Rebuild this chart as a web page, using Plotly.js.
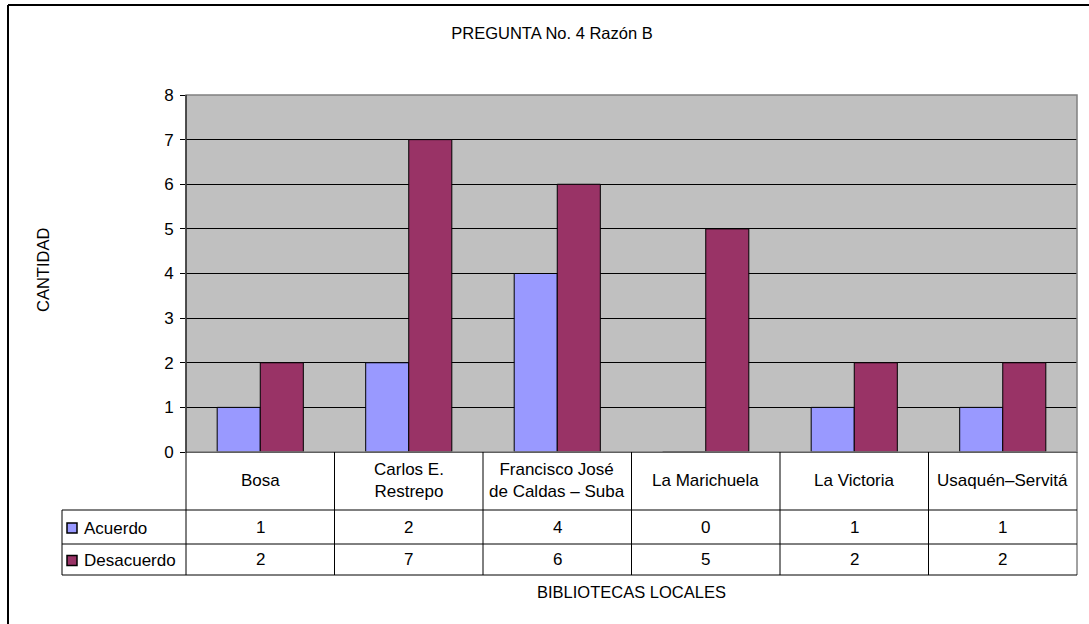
<!DOCTYPE html>
<html>
<head>
<meta charset="utf-8">
<script src="https://cdn.plot.ly/plotly-3.0.1.min.js"></script>
<style>html,body{margin:0;padding:0;background:#fff;}#chart{width:1089px;height:624px;}</style>
</head>
<body>
<div id="chart"></div>
<script>
// ---- data ----
const categories = ["Bosa", "Carlos E. Restrepo", "Francisco José de Caldas – Suba", "La Marichuela", "La Victoria", "Usaquén–Servitá"];
const tickLabels = ["Bosa", "Carlos E.<br>Restrepo", "Francisco José<br>de Caldas – Suba", "La Marichuela", "La Victoria", "Usaquén–Servitá"];
const seriesNames = ["Acuerdo", "Desacuerdo"];
const acuerdo = [1, 2, 4, 0, 1, 1];
const desacuerdo = [2, 7, 6, 5, 2, 2];
const chartTitle = "PREGUNTA No. 4 Razón B";
const xTitle = "BIBLIOTECAS LOCALES";
const yTitle = "CANTIDAD";

// ---- styling / geometry ----
const colors = ["#9999FF", "#993366"];
const FONT = "Liberation Sans, Arial, sans-serif";
const W = 1089, H = 624;
const L = 186, R = 1077, T = 95, B = 452;
const px = x => (x - L) / (R - L);
const py = y => (B - y) / (B - T);

const series = [acuerdo, desacuerdo];
const traces = series.map((vals, i) => ({
  type: "bar",
  name: seriesNames[i],
  x: categories,
  y: vals,
  marker: { color: colors[i], line: { color: "#000", width: 1 } },
  hoverinfo: "none"
}));

const rowTop = [510, 544];
const rowBottom = [544, 575];
const legendLeft = 62;
const shapes = [];
const annotations = [];

// outer chart border (top and left edges visible)
shapes.push({ type: "line", xref: "paper", yref: "paper", x0: px(8), x1: px(W), y0: py(5), y1: py(5),
  line: { color: "#000", width: 2 }, layer: "above" });
shapes.push({ type: "line", xref: "paper", yref: "paper", x0: px(8), x1: px(8), y0: py(5), y1: py(H),
  line: { color: "#000", width: 2 }, layer: "above" });
// plot area border (grey)
shapes.push({ type: "rect", xref: "paper", yref: "paper", x0: 0, x1: 1, y0: 0, y1: 1,
  line: { color: "#808080", width: 1.5 }, fillcolor: "rgba(0,0,0,0)", layer: "above" });
// y axis line
shapes.push({ type: "line", xref: "paper", yref: "paper", x0: 0, x1: 0, y0: 0, y1: 1, line: { color: "#000", width: 1 }, layer: "above" });

// data table lines
const n = categories.length;
for (let k = 0; k <= n; k++) {
  shapes.push({ type: "line", xref: "paper", yref: "paper", x0: k / n, x1: k / n, y0: 0, y1: py(575),
    line: { color: k === n ? "#444" : "#000", width: 1 } });
}
shapes.push({ type: "line", xref: "paper", yref: "paper", x0: px(legendLeft), x1: px(legendLeft), y0: py(510), y1: py(575),
  line: { color: "#000", width: 1 } });
[510, 544, 575].forEach(y => {
  shapes.push({ type: "line", xref: "paper", yref: "paper", x0: px(legendLeft), x1: 1, y0: py(y), y1: py(y),
    line: { color: "#000", width: 1 } });
});

// category labels
tickLabels.forEach((lab, j) => {
  annotations.push({ xref: "x", yref: "paper", x: categories[j], y: py(480), text: lab, showarrow: false,
    font: { family: FONT, size: 17, color: "#000" }, xanchor: "center", yanchor: "middle", align: "center" });
});
// series rows
series.forEach((vals, i) => {
  const yc = (rowTop[i] + rowBottom[i]) / 2;
  shapes.push({ type: "rect", xref: "paper", yref: "paper", x0: px(67), x1: px(77), y0: py(yc - 4), y1: py(yc + 6),
    fillcolor: colors[i], line: { color: "#000", width: 1.5 } });
  annotations.push({ xref: "paper", yref: "paper", x: px(82), y: py(yc + 1), text: seriesNames[i], showarrow: false,
    font: { family: FONT, size: 17, color: "#000" }, xanchor: "left", yanchor: "middle" });
  vals.forEach((v, j) => {
    annotations.push({ xref: "x", yref: "paper", x: categories[j], y: py(yc), text: String(v), showarrow: false,
      font: { family: FONT, size: 17, color: "#000" }, xanchor: "center", yanchor: "middle" });
  });
});
// axis titles
annotations.push({ xref: "paper", yref: "paper", x: 0.5, y: py(592), text: xTitle, showarrow: false,
  font: { family: FONT, size: 16.5, color: "#000" }, xanchor: "center", yanchor: "middle" });
annotations.push({ xref: "paper", yref: "paper", x: px(43), y: py(270), text: yTitle, showarrow: false, textangle: -90,
  font: { family: FONT, size: 16.5, color: "#000" }, xanchor: "center", yanchor: "middle" });

const layout = {
  width: W, height: H, autosize: false,
  margin: { l: L, r: W - R, t: T, b: H - B, pad: 0 },
  paper_bgcolor: "#fff", plot_bgcolor: "#C0C0C0",
  showlegend: false,
  barmode: "group", bargap: 0.42, bargroupgap: 0,
  title: { text: chartTitle, font: { family: FONT, size: 16.5, color: "#000" },
    xref: "paper", x: px(552), xanchor: "center", yref: "container", y: 1 - 33 / H, yanchor: "middle" },
  xaxis: { type: "category", showticklabels: false, ticks: "", showline: true, linecolor: "#000", linewidth: 1,
    showgrid: false, zeroline: false, fixedrange: true },
  yaxis: { range: [0, 8], dtick: 1, tick0: 0, showgrid: true, gridcolor: "#000", gridwidth: 1,
    ticks: "outside", ticklen: 5, tickcolor: "#000", tickwidth: 1, showline: false, zeroline: false,
    tickfont: { family: FONT, size: 17, color: "#000" }, ticklabelstandoff: 3, fixedrange: true },
  shapes: shapes,
  annotations: annotations
};

Plotly.newPlot("chart", traces, layout, { staticPlot: true, displayModeBar: false });
</script>
</body>
</html>
